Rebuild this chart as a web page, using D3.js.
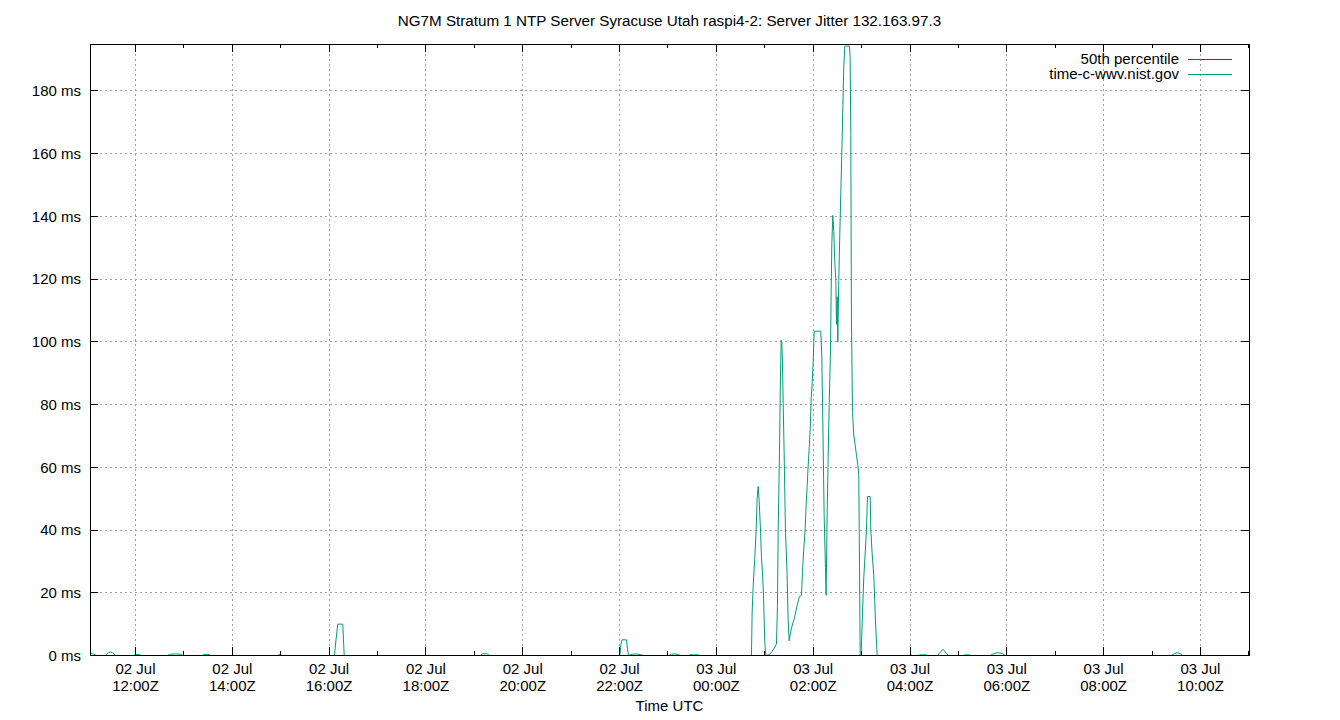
<!DOCTYPE html>
<html><head><meta charset="utf-8">
<script src="https://cdn.jsdelivr.net/npm/d3@7/dist/d3.min.js"></script>
<style>body{margin:0;background:#fff}svg{display:block}text{font-family:"Liberation Sans",Arial,sans-serif;fill:#000}</style>
</head><body><svg id="c" width="1340" height="720"></svg>
<script>
const title = "NG7M Stratum 1 NTP Server Syracuse Utah raspi4-2: Server Jitter 132.163.97.3";
const xLabel = "Time UTC";
const seriesNames = ["50th percentile", "time-c-wwv.nist.gov"];
const seriesColors = ["#9400d3", "#009e73"];
const xDomain = ["07-02 11:04:13", "07-03 11:00:48"];
const yDomain = [0, 194.8];
const yTicks = [0, 20, 40, 60, 80, 100, 120, 140, 160, 180];
const p50 = [0];
const times = [
"07-02 11:04:13","07-02 11:07:57","07-02 11:11:40",
"07-02 11:22:49","07-02 11:24:41","07-02 11:26:32","07-02 11:29:01","07-02 11:31:29","07-02 11:33:21","07-02 11:34:35",
"07-02 11:57:31","07-02 12:00:00","07-02 12:04:58","07-02 12:07:26",
"07-02 12:39:40","07-02 12:43:23","07-02 12:49:35","07-02 12:55:46","07-02 12:58:15",
"07-02 13:23:02","07-02 13:24:17","07-02 13:31:43","07-02 13:32:57",
"07-02 14:56:00","07-02 14:59:06","07-02 15:02:12",
"07-02 16:06:38","07-02 16:08:30","07-02 16:10:44","07-02 16:16:56","07-02 16:17:48","07-02 16:18:40",
"07-02 19:07:35","07-02 19:10:04","07-02 19:13:47","07-02 19:16:16","07-02 19:18:45",
"07-02 22:00:15","07-02 22:01:44","07-02 22:02:59","07-02 22:08:34","07-02 22:09:48","07-02 22:11:02",
"07-02 22:15:59","07-02 22:20:56","07-02 22:25:54","07-02 22:29:37",
"07-02 23:00:36","07-02 23:04:19","07-02 23:09:16","07-02 23:12:59","07-02 23:15:28",
"07-02 23:25:23","07-02 23:26:38","07-02 23:37:47","07-02 23:39:01",
"07-03 00:43:30","07-03 00:44:18","07-03 00:45:36","07-03 00:47:36","07-03 00:49:18","07-03 00:50:30","07-03 00:51:48","07-03 00:53:00","07-03 00:54:42","07-03 00:55:54",
"07-03 00:57:06","07-03 00:58:24","07-03 00:59:12","07-03 01:00:00","07-03 01:01:18","07-03 01:05:00","07-03 01:07:54","07-03 01:11:12","07-03 01:14:30","07-03 01:15:42",
"07-03 01:16:36","07-03 01:18:12","07-03 01:19:24","07-03 01:20:18","07-03 01:21:06","07-03 01:21:54","07-03 01:22:48","07-03 01:24:00","07-03 01:25:36","07-03 01:27:42",
"07-03 01:28:54","07-03 01:30:12","07-03 01:31:48","07-03 01:33:54","07-03 01:36:48","07-03 01:40:06","07-03 01:43:00","07-03 01:45:30","07-03 01:46:42","07-03 01:48:24",
"07-03 01:50:00","07-03 01:51:18","07-03 01:52:30","07-03 01:53:42","07-03 01:55:24","07-03 01:56:36","07-03 01:57:30","07-03 01:58:42","07-03 01:59:54","07-03 02:01:12",
"07-03 02:09:24","07-03 02:10:42","07-03 02:11:54","07-03 02:13:36","07-03 02:15:12","07-03 02:16:00","07-03 02:17:18","07-03 02:18:30","07-03 02:19:48","07-03 02:21:24",
"07-03 02:22:12","07-03 02:23:06","07-03 02:24:18","07-03 02:25:30","07-03 02:26:48","07-03 02:28:00","07-03 02:28:54","07-03 02:29:42","07-03 02:30:30","07-03 02:31:42",
"07-03 02:33:00","07-03 02:34:12","07-03 02:35:30","07-03 02:36:42","07-03 02:37:54","07-03 02:39:12","07-03 02:45:00","07-03 02:45:48","07-03 02:46:36","07-03 02:47:24",
"07-03 02:48:42","07-03 02:50:18","07-03 02:52:00","07-03 02:53:36","07-03 02:55:18","07-03 02:56:30","07-03 02:57:24","07-03 02:58:12","07-03 02:59:24","07-03 03:01:06",
"07-03 03:02:42","07-03 03:04:24","07-03 03:06:00","07-03 03:07:18","07-03 03:10:36","07-03 03:11:24","07-03 03:13:06","07-03 03:15:06","07-03 03:17:12","07-03 03:19:18",
"07-03 04:00:32","07-03 04:01:47","07-03 04:03:01","07-03 04:10:27","07-03 04:11:41","07-03 04:20:22","07-03 04:21:37",
"07-03 04:34:00","07-03 04:40:49","07-03 04:47:38",
"07-03 05:06:14","07-03 05:07:28","07-03 05:13:40","07-03 05:14:55",
"07-03 05:39:41","07-03 05:43:25","07-03 05:48:59","07-03 05:54:34","07-03 05:58:17",
"07-03 09:24:02","07-03 09:27:45","07-03 09:31:28","07-03 09:35:11","07-03 09:37:40",
"07-03 11:00:48"
];
const jitter = [
0.85,0.4,0,
0,0.6,1.0,1.1,0.9,0.5,0,
0,0.3,0.3,0,
0,0.4,0.5,0.4,0,
0,0.3,0.3,0,
0,0.3,0,
0,5,10,10,5,0,
0,0.5,0.6,0.5,0,
0,3.5,5,5,2,0,
0.4,0.5,0.3,0,
0,0.4,0.5,0.3,0,
0,0.2,0.2,0,
0,13.5,22.3,31.2,40.0,50.1,53.9,49.4,40.0,31.2,
26.7,19.2,11.6,4.0,0,0.25,0.9,2.1,3.7,16.0,
40.0,64.6,88.5,100.5,99.9,93.6,80.4,64.6,40.0,25.5,
11.6,4.7,7.2,9.5,12.0,16.0,18.8,19.2,26.7,34.3,
40.0,48.2,53.9,60.2,67.7,74.0,82.2,86.7,93.0,103.4,
103.4,95.5,74.7,44.4,28.0,19.2,45.0,62.7,79.7,96.8,
114.4,131.4,140.3,135.2,125.1,120.1,105.6,114.4,99.9,119.5,
134.6,147.2,160.5,174.3,187.6,194.3,194.3,190.7,166.1,108.1,
77.8,70.3,67.1,64.0,60.8,57.6,28.6,0,0,13.5,
24.8,32.4,40.0,50.7,50.7,40.0,32.4,25.5,11.0,0,
0,0.2,0,0,0.2,0.2,0,
0,2.0,0,
0,0.2,0.2,0,
0,0.6,0.9,0.6,0,
0,0.6,0.9,0.6,0,
0
];

const parse = d3.utcParse("%m-%d %H:%M:%S");
const L = 90, R = 1249, T = 44, B = 655;
const svg = d3.select("#c");
svg.append("rect").attr("width",1340).attr("height",720).attr("fill","#fff");

const x = d3.scaleUtc().domain(xDomain.map(parse)).range([L + 0.5, R + 0.5]);
const y = d3.scaleLinear().domain(yDomain).range([B + 0.5, T + 0.5]);

const major = x.ticks(d3.utcHour.every(2));
const minor = x.ticks(d3.utcHour.every(1)).filter(d => d.getUTCHours() % 2 === 1);
const snap = v => Math.floor(v) + 0.5;

const grid = svg.append("g").attr("stroke","#a0a0a0").attr("stroke-width",1).attr("stroke-dasharray","2,3").attr("shape-rendering","crispEdges");
major.forEach(d => grid.append("line").attr("x1",snap(x(d))).attr("x2",snap(x(d))).attr("y1",T).attr("y2",B));
yTicks.filter(v => v > 0).forEach(v => grid.append("line").attr("x1",L).attr("x2",R).attr("y1",snap(y(v))).attr("y2",snap(y(v))));

svg.append("clipPath").attr("id","clip").append("rect").attr("x",L).attr("y",T).attr("width",R-L+1).attr("height",B-T+1);
const plot = svg.append("g").attr("clip-path","url(#clip)");
const data = times.map((t,i) => ({t: parse(t), v: jitter[i]}));
plot.append("line").attr("x1",L).attr("x2",R).attr("y1",y(p50[0])).attr("y2",y(p50[0])).attr("stroke",seriesColors[0]).attr("stroke-width",1);
plot.append("path").datum(data).attr("fill","none").attr("stroke",seriesColors[1]).attr("stroke-width",1)
  .attr("d", d3.line().x(d => x(d.t)).y(d => y(d.v)));

// border and ticks
const ax = svg.append("g").attr("stroke","#000").attr("stroke-width",1).attr("shape-rendering","crispEdges");
ax.append("rect").attr("x",L+0.5).attr("y",T+0.5).attr("width",R-L).attr("height",B-T).attr("fill","none");
major.forEach(d => { const px = snap(x(d));
  ax.append("line").attr("x1",px).attr("x2",px).attr("y1",B).attr("y2",B-8);
  ax.append("line").attr("x1",px).attr("x2",px).attr("y1",T).attr("y2",T+8); });
minor.forEach(d => { const px = snap(x(d));
  ax.append("line").attr("x1",px).attr("x2",px).attr("y1",B).attr("y2",B-4);
  ax.append("line").attr("x1",px).attr("x2",px).attr("y1",T).attr("y2",T+4); });
yTicks.forEach(v => { const py = snap(y(v));
  ax.append("line").attr("x1",L).attr("x2",L+8).attr("y1",py).attr("y2",py);
  ax.append("line").attr("x1",R).attr("x2",R-8).attr("y1",py).attr("y2",py); });

const fs = 15;
const fmtDay = d3.utcFormat("%d %b"), fmtTime = d3.utcFormat("%H:%MZ");
major.forEach(d => {
  svg.append("text").attr("x",x(d)).attr("y",674).attr("text-anchor","middle").attr("font-size",fs).text(fmtDay(d));
  svg.append("text").attr("x",x(d)).attr("y",691).attr("text-anchor","middle").attr("font-size",fs).text(fmtTime(d));
});
yTicks.forEach(v => svg.append("text").attr("x",81).attr("y",y(v)).attr("dy","0.35em").attr("text-anchor","end").attr("font-size",fs).text(v + " ms"));
svg.append("text").attr("x",(L+R)/2).attr("y",711).attr("text-anchor","middle").attr("font-size",fs).text(xLabel);
svg.append("text").attr("x",(L+R)/2).attr("y",26).attr("text-anchor","middle").attr("font-size",15.2).text(title);

seriesNames.forEach((n,i) => {
  const cy = 59 + i*15;
  svg.append("text").attr("x",1179).attr("y",cy).attr("dy","0.35em").attr("text-anchor","end").attr("font-size",fs).text(n);
  svg.append("line").attr("x1",1188).attr("x2",1232).attr("y1",cy+0.5).attr("y2",cy+0.5).attr("stroke",seriesColors[i]).attr("stroke-width",1);
});
</script></body></html>
